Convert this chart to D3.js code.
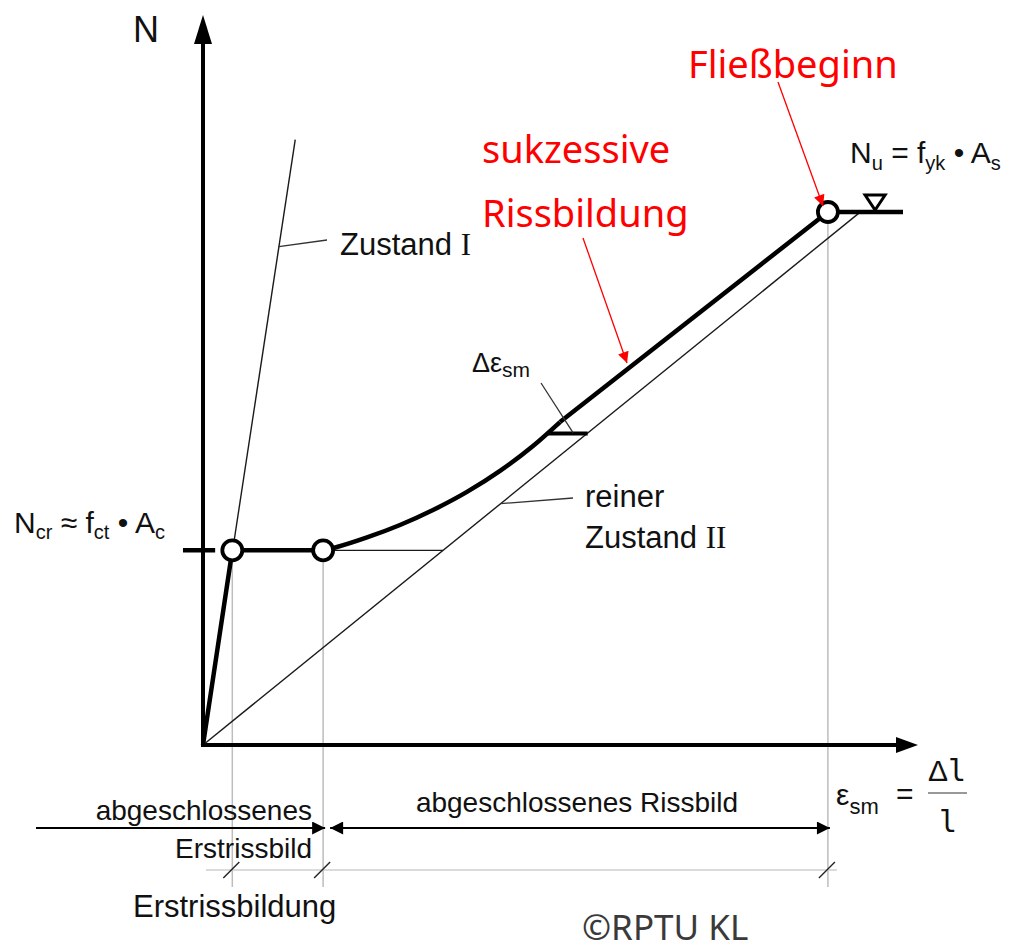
<!DOCTYPE html>
<html>
<head>
<meta charset="utf-8">
<script src="https://cdn.jsdelivr.net/npm/d3@7/dist/d3.min.js"></script>
<style>
    body { margin: 0; background: #fff; }
    svg { display: block; }
    text { font-family: "Liberation Sans", Arial, sans-serif; fill: #111; }
    .red { font-family: "Noto Sans", sans-serif; fill: #ff0000; }
</style>
</head>
<body>
<svg id="chart"></svg>
<script>
// eps = strain (schematic units), n = N / Ncr
const domainEps = [0, 10];
const domainN = [0, 3.75];

const firstCracking = [[0, 0], [0.41, 1.0], [1.68, 1.0]];
const tensionStiffening = [[1.68, 1.0], [1.874, 1.017], [2.294, 1.066], [2.755, 1.13], [3.217, 1.207],
    [3.692, 1.30], [4.154, 1.408], [4.615, 1.536], [4.993, 1.659]];
const stabilized = [[4.993, 1.659], [8.74, 2.738], [9.79, 2.738]];
const stateI = [[0, 0], [1.29, 3.11]];
const stateII = [[0, 0], [9.2, 2.74]];
const ncrLine = [[-0.28, 1.0], [0.17, 1.0]];
const ncrThin = [[1.68, 1.0], [3.36, 1.0]];
const deltaEps = [[4.82, 1.6], [5.38, 1.6]];
const keyPoints = [[0.41, 1.0], [1.68, 1.0], [8.74, 2.738]];
const yieldMark = [9.4, 2.738];

class Diagram
{
    constructor(svg, width = 1010, height = 950) {
        this.svg = d3.select(svg);
        this.width = width;
        this.height = height;
    }

    initialize() {
        this.svg.attr("width", this.width).attr("height", this.height);
        this.x = d3.scaleLinear().domain(domainEps).range([203, 918]);
        this.y = d3.scaleLinear().domain(domainN).range([745, 15]);
        this.line = d3.line().x(d => this.x(d[0])).y(d => this.y(d[1]));

        const defs = this.svg.append("defs");
        defs.append("marker").attr("id", "redHead")
            .attr("viewBox", "0 0 10 10").attr("refX", 10).attr("refY", 5)
            .attr("markerUnits", "userSpaceOnUse").attr("markerWidth", 14).attr("markerHeight", 11)
            .attr("orient", "auto")
            .append("path").attr("d", "M0,0L10,5L0,10Z").attr("fill", "#ff0000");
        defs.append("marker").attr("id", "blackHead")
            .attr("viewBox", "0 0 10 10").attr("refX", 10).attr("refY", 5)
            .attr("markerUnits", "userSpaceOnUse").attr("markerWidth", 15).attr("markerHeight", 13)
            .attr("orient", "auto-start-reverse")
            .append("path").attr("d", "M0,0L10,5L0,10Z").attr("fill", "#000");

        this.drawHelpers();
        this.drawAxes();
        this.drawCurves();
        this.drawLabels();
        this.drawBottom();
    }

    drawHelpers() {
        const g = this.svg.append("g");
        g.selectAll(".drop").data(keyPoints).join("line")
            .attr("x1", d => this.x(d[0])).attr("x2", d => this.x(d[0]))
            .attr("y1", d => this.y(d[1]) + 12).attr("y2", 887)
            .attr("stroke", "#bdbdbd").attr("stroke-width", 1.5);
        g.append("line")
            .attr("x1", 206).attr("x2", this.x(keyPoints[2][0]) + 9)
            .attr("y1", 870).attr("y2", 870)
            .attr("stroke", "#cfcfcf").attr("stroke-width", 1.5);
    }

    drawAxes() {
        const g = this.svg.append("g");
        const x0 = this.x(0), y0 = this.y(0);
        g.append("line").attr("x1", x0).attr("x2", x0).attr("y1", y0 + 2).attr("y2", 40)
            .attr("stroke", "#000").attr("stroke-width", 4);
        g.append("path").attr("d", `M${x0},15L${x0 - 9},44L${x0 + 9},44Z`).attr("fill", "#000");
        g.append("line").attr("x1", x0 - 2).attr("x2", 900).attr("y1", y0).attr("y2", y0)
            .attr("stroke", "#000").attr("stroke-width", 4);
        g.append("path").attr("d", `M918,${y0}L896,${y0 - 8}L896,${y0 + 8}Z`).attr("fill", "#000");
        g.append("text").attr("x", 133).attr("y", 42).style("font-size", "36px").text("N");
    }

    drawCurves() {
        const g = this.svg.append("g").attr("fill", "none");
        const thin = [stateI, stateII, ncrThin];
        g.selectAll(".thin").data(thin).join("path")
            .attr("d", this.line).attr("stroke", "#1a1a1a").attr("stroke-width", 1.4);

        g.append("path").datum(ncrLine).attr("d", this.line)
            .attr("stroke", "#000").attr("stroke-width", 4.5);
        g.append("path").datum(firstCracking).attr("d", this.line)
            .attr("stroke", "#000").attr("stroke-width", 4.5).attr("stroke-linejoin", "round");
        const smooth = d3.line().x(d => this.x(d[0])).y(d => this.y(d[1])).curve(d3.curveMonotoneX);
        g.append("path").datum(tensionStiffening).attr("d", smooth)
            .attr("stroke", "#000").attr("stroke-width", 4.5);
        g.append("path").datum(stabilized).attr("d", this.line)
            .attr("stroke", "#000").attr("stroke-width", 4.5).attr("stroke-linejoin", "round");
        g.append("path").datum(deltaEps).attr("d", this.line)
            .attr("stroke", "#000").attr("stroke-width", 4);

        // yield triangle
        const tx = this.x(yieldMark[0]), ty = this.y(yieldMark[1]);
        g.append("path").attr("d", `M${tx - 10},${ty - 17}L${tx + 10},${ty - 17}L${tx},${ty - 2}Z`)
            .attr("stroke", "#000").attr("stroke-width", 3).attr("stroke-linejoin", "miter");

        this.svg.append("g").selectAll("circle").data(keyPoints).join("circle")
            .attr("cx", d => this.x(d[0])).attr("cy", d => this.y(d[1])).attr("r", 10)
            .attr("fill", "#fff").attr("stroke", "#000").attr("stroke-width", 3.8);
    }

    formula(text, parts, shift, subSize) {
        parts.forEach(p => {
            text.append("tspan").attr("dy", p[1] === 1 ? shift : (p[1] === -1 ? -shift : 0))
                .style("font-size", p[1] === 1 ? subSize + "px" : null).text(p[0]);
        });
    }

    drawLabels() {
        const g = this.svg.append("g");
        const lead = (x1, y1, x2, y2) => g.append("line")
            .attr("x1", x1).attr("y1", y1).attr("x2", x2).attr("y2", y2)
            .attr("stroke", "#333").attr("stroke-width", 1.3);

        // Zustand I
        lead(this.x(1.06), this.y(2.56), 327, 240);
        const zi = g.append("text").attr("x", 340).attr("y", 255).style("font-size", "31px");
        zi.append("tspan").text("Zustand ");
        zi.append("tspan").style("font-family", "'Liberation Serif', serif").text("I");

        // reiner Zustand II
        lead(this.x(4.16), this.y(1.24), 573, 498);
        g.append("text").attr("x", 585).attr("y", 507).style("font-size", "31px").text("reiner");
        const z2 = g.append("text").attr("x", 585).attr("y", 548).style("font-size", "31px");
        z2.append("tspan").text("Zustand ");
        z2.append("tspan").style("font-family", "'Liberation Serif', serif").text("II");

        // Delta eps_sm
        lead(541, 383, 573, this.y(1.6) - 1);
        const de = g.append("text").attr("x", 472).attr("y", 372).style("font-size", "27px");
        de.append("tspan").text("Δε");
        de.append("tspan").attr("dy", 5).style("font-size", "21px").text("sm");

        // Ncr, Nu
        this.formula(g.append("text").attr("x", 14).attr("y", 533).style("font-size", "30px"),
            [["N", 0], ["cr", 1], [" ≈ f", -1], ["ct", 1], [" • A", -1], ["c", 1]], 6, 20);
        this.formula(g.append("text").attr("x", 850).attr("y", 163).style("font-size", "30px"),
            [["N", 0], ["u", 1], [" = f", -1], ["yk", 1], [" • A", -1], ["s", 1]], 7, 20);

        // red annotations
        g.append("text").attr("class", "red").attr("x", 688).attr("y", 78).style("font-size", "38px").text("Fließbeginn");
        g.append("text").attr("class", "red").attr("x", 482).attr("y", 163).style("font-size", "38px").text("sukzessive");
        g.append("text").attr("class", "red").attr("x", 482).attr("y", 227).style("font-size", "38px").text("Rissbildung");
        g.append("line").attr("x1", 778).attr("y1", 82).attr("x2", 823).attr("y2", 206)
            .attr("stroke", "#ff0000").attr("stroke-width", 1.3).attr("marker-end", "url(#redHead)");
        g.append("line").attr("x1", 583).attr("y1", 238).attr("x2", 627).attr("y2", 363)
            .attr("stroke", "#ff0000").attr("stroke-width", 1.3).attr("marker-end", "url(#redHead)");
    }

    drawBottom() {
        const g = this.svg.append("g");
        const xa = this.x(keyPoints[0][0]), xb = this.x(keyPoints[1][0]), xc = this.x(keyPoints[2][0]);

        g.append("line").attr("x1", 36).attr("x2", xb + 2).attr("y1", 828).attr("y2", 828)
            .attr("stroke", "#000").attr("stroke-width", 2.2).attr("marker-end", "url(#blackHead)");
        g.append("line").attr("x1", xb + 7).attr("x2", xc + 2).attr("y1", 828).attr("y2", 828)
            .attr("stroke", "#000").attr("stroke-width", 2.2)
            .attr("marker-start", "url(#blackHead)").attr("marker-end", "url(#blackHead)");

        g.selectAll(".slash").data([xa, xb, xc]).join("line")
            .attr("x1", d => d - 9).attr("y1", 878).attr("x2", d => d + 7).attr("y2", 862)
            .attr("stroke", "#222").attr("stroke-width", 1.4);

        g.append("text").attr("x", 312).attr("y", 820).attr("text-anchor", "end").style("font-size", "28px").text("abgeschlossenes");
        g.append("text").attr("x", 312).attr("y", 858).attr("text-anchor", "end").style("font-size", "28px").text("Erstrissbild");
        g.append("text").attr("x", 133).attr("y", 917).style("font-size", "31px").text("Erstrissbildung");
        g.append("text").attr("x", 577).attr("y", 812).attr("text-anchor", "middle").style("font-size", "28px").text("abgeschlossenes Rissbild");

        const es = g.append("text").attr("x", 836).attr("y", 805).style("font-size", "30px");
        es.append("tspan").text("ε");
        es.append("tspan").attr("dy", 9).style("font-size", "22px").text("sm");
        g.append("text").attr("x", 896).attr("y", 804).style("font-size", "30px").text("=");
        g.append("line").attr("x1", 928).attr("x2", 967).attr("y1", 793).attr("y2", 793)
            .attr("stroke", "#777").attr("stroke-width", 1.5);
        const dl = g.append("text").attr("x", 947).attr("y", 781).attr("text-anchor", "middle").style("font-size", "30px");
        dl.append("tspan").text("Δ");
        dl.append("tspan").style("font-family", "'DejaVu Sans Mono', monospace").text("l");
        g.append("text").attr("x", 948).attr("y", 832).attr("text-anchor", "middle")
            .style("font-family", "'DejaVu Sans Mono', monospace").style("font-size", "30px").text("l");

        g.append("text").attr("x", 582).attr("y", 940).style("font-family", "'Noto Sans', sans-serif")
            .style("font-size", "35px").style("fill", "#3a3a3a").text("©RPTU KL");
    }
}

const chart = new Diagram("#chart");
chart.initialize();
</script>
</body>
</html>
